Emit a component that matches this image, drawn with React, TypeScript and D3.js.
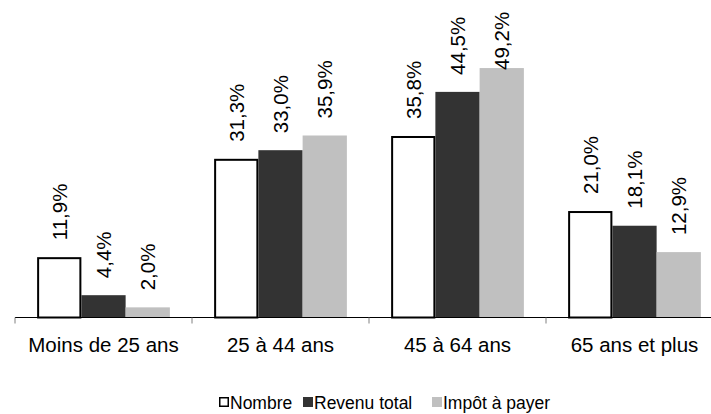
import { useMemo } from 'react';
import * as d3 from 'd3';

// chart data
const categories = ['Moins de 25 ans', '25 à 44 ans', '45 à 64 ans', '65 ans et plus'];
const seriesNames = ['Nombre', 'Revenu total', 'Impôt à payer'];
const nombre = [11.9, 31.3, 35.8, 21.0];
const revenuTotal = [4.4, 33.0, 44.5, 18.1];
const impotAPayer = [2.0, 35.9, 49.2, 12.9];

const seriesValues = [nombre, revenuTotal, impotAPayer];
const fills = ['#ffffff', '#333333', '#c0c0c0'];
const strokes = ['#000000', 'none', 'none'];

const WIDTH = 711;
const HEIGHT = 414;
const FONT = '"Liberation Sans", Arial, sans-serif';

const fmt = (v: number) => `${v.toFixed(1).replace('.', ',')}%`;

export default function App() {
  const baseline = 317.5;

  // x scales: categories then series inside each category
  const x0 = useMemo(
    () => d3.scaleBand<string>().domain(categories).range([15, 723]).paddingInner(0).paddingOuter(0),
    [],
  );
  const x1 = useMemo(
    () => d3.scaleBand<string>().domain(seriesNames).range([0, x0.bandwidth()]).paddingInner(0).paddingOuter(0.5),
    [x0],
  );
  const y = useMemo(() => d3.scaleLinear().domain([0, 50]).range([baseline, baseline - 50 * 5.07]), []);

  const labelSize = 20.5;
  const labelLen = 58; // approx rendered length of a rotated label
  const labelGap = 17;

  const legendX = [219, 303, 432];

  return (
    <svg
      width={WIDTH}
      height={HEIGHT}
      style={{ position: 'absolute', left: 0, top: 0, background: '#fff' }}
      fontFamily={FONT}
    >
      <defs>
        <clipPath id="plot-clip">
          <rect x={0} y={0} width={WIDTH} height={HEIGHT} />
        </clipPath>
      </defs>
      <g clipPath="url(#plot-clip)">
        {categories.map((cat, ci) => (
          <g key={cat} transform={`translate(${x0(cat)},0)`}>
            {seriesNames.map((s, si) => {
              const v = seriesValues[si][ci];
              const bx = x1(s) as number;
              const top = y(v);
              const isWhite = si === 0;
              return (
                <rect
                  key={s}
                  x={isWhite ? bx + 1 : bx}
                  y={isWhite ? top + 1 : top}
                  width={isWhite ? x1.bandwidth() - 2 : x1.bandwidth()}
                  height={isWhite ? baseline - top - 1 : baseline - top}
                  fill={fills[si]}
                  stroke={strokes[si]}
                  strokeWidth={isWhite ? 2 : 0}
                />
              );
            })}
            {seriesNames.map((s, si) => {
              const v = seriesValues[si][ci];
              const cx = (x1(s) as number) + x1.bandwidth() / 2;
              const start = Math.max(y(v) - labelGap, 12 + labelLen);
              return (
                <text
                  key={`l-${s}`}
                  transform={`translate(${cx},${start}) rotate(-90)`}
                  textAnchor="start"
                  dominantBaseline="central"
                  fontSize={labelSize}
                  fill="#000"
                >
                  {fmt(v)}
                </text>
              );
            })}
            <text
              x={x0.bandwidth() / 2}
              y={351.5}
              textAnchor="middle"
              fontSize={20.5}
              fill="#000"
            >
              {cat}
            </text>
          </g>
        ))}
        {/* category axis */}
        <line x1={15} x2={723} y1={baseline} y2={baseline} stroke="#000" strokeWidth={1} />
        {[...categories.map((c) => x0(c) as number), 723].map((tx) => (
          <line key={tx} x1={tx} x2={tx} y1={baseline} y2={baseline + 6} stroke="#808080" strokeWidth={1} />
        ))}
      </g>

      {/* legend */}
      <g fontSize={17.5}>
        {seriesNames.map((s, si) => (
          <g key={s} transform={`translate(${legendX[si]},0)`}>
            <rect
              x={si === 0 ? 0.75 : 0}
              y={si === 0 ? 397.75 : 397}
              width={si === 0 ? 8.5 : 10}
              height={si === 0 ? 8.5 : 10}
              fill={fills[si]}
              stroke={strokes[si]}
              strokeWidth={si === 0 ? 1.5 : 0}
            />
            <text x={11} y={408.5} fill="#000">
              {s}
            </text>
          </g>
        ))}
      </g>
    </svg>
  );
}
